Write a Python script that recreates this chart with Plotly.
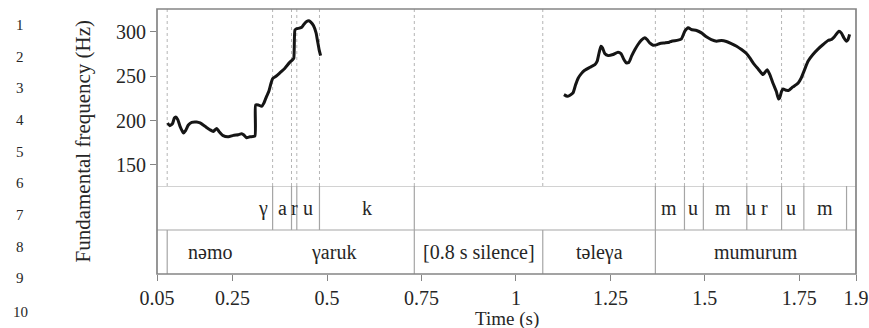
import plotly.graph_objects as go

# F0 contour, first voiced stretch (nəmo ɣaruk)
seg1_t = [0.078, 0.084, 0.091, 0.096, 0.100, 0.105, 0.111, 0.120, 0.126, 0.133,
          0.142, 0.155, 0.164, 0.177, 0.190, 0.199, 0.208, 0.214, 0.225, 0.239,
          0.252, 0.265, 0.274, 0.280, 0.287, 0.296, 0.309, 0.311, 0.318, 0.327,
          0.333, 0.340, 0.346, 0.352, 0.356, 0.365, 0.375, 0.389, 0.400, 0.409,
          0.412, 0.415, 0.419, 0.427, 0.433, 0.439, 0.446, 0.452, 0.457, 0.464,
          0.471, 0.475, 0.479, 0.483]
seg1_hz = [197.3, 194.2, 196.5, 202.9, 204.0, 201.0, 193.5, 186.0, 189.0, 195.0,
           198.0, 198.4, 197.3, 193.5, 189.7, 187.8, 191.2, 187.8, 183.0, 181.8,
           183.3, 184.1, 185.2, 183.7, 180.7, 181.8, 182.6, 217.6, 217.6, 216.1,
           219.8, 227.3, 233.0, 242.4, 247.3, 249.9, 253.7, 259.3, 265.0, 268.7,
           270.2, 301.8, 303.4, 304.1, 305.2, 308.6, 311.6, 312.4, 310.9, 307.1,
           298.8, 289.4, 280.0, 273.2]

# F0 contour, second voiced stretch (təleɣa mumurum)
seg2_t = [1.127, 1.136, 1.143, 1.151, 1.158, 1.165, 1.173, 1.182, 1.196, 1.209,
          1.215, 1.220, 1.225, 1.229, 1.235, 1.244, 1.257, 1.270, 1.278, 1.285,
          1.292, 1.299, 1.306, 1.315, 1.323, 1.332, 1.341, 1.347, 1.354, 1.363,
          1.372, 1.381, 1.394, 1.406, 1.412, 1.429, 1.438, 1.447, 1.456, 1.464,
          1.478, 1.491, 1.504, 1.517, 1.531, 1.544, 1.557, 1.570, 1.584, 1.597,
          1.610, 1.619, 1.629, 1.641, 1.654, 1.665, 1.672, 1.680, 1.689, 1.695,
          1.698, 1.703, 1.707, 1.716, 1.722, 1.733, 1.747, 1.755, 1.764, 1.773,
          1.786, 1.800, 1.813, 1.826, 1.835, 1.844, 1.855, 1.861, 1.868, 1.875,
          1.879, 1.883]
seg2_hz = [229.2, 227.3, 228.5, 231.1, 240.5, 248.0, 252.9, 256.7, 260.1, 263.1,
           266.9, 276.3, 283.8, 281.9, 275.5, 273.2, 274.4, 277.0, 275.5, 269.5,
           265.0, 265.7, 272.5, 280.0, 285.7, 290.6, 293.2, 291.3, 287.5, 284.9,
           285.3, 286.8, 287.5, 288.3, 289.4, 290.6, 292.1, 300.7, 304.5, 302.6,
           301.5, 298.8, 294.3, 291.3, 289.4, 290.2, 289.1, 286.8, 283.8, 280.0,
           275.5, 270.6, 264.2, 258.2, 251.8, 257.4, 251.8, 242.4, 233.0, 224.3,
           225.5, 233.0, 235.6, 234.1, 234.1, 237.9, 242.4, 248.0, 257.4, 266.9,
           274.4, 280.8, 285.7, 290.2, 291.3, 295.1, 300.7, 298.8, 293.2, 289.4,
           291.3, 297.0]

# TextGrid tiers
phone_bounds = [0.356, 0.406, 0.420, 0.480, 0.731, 1.369, 1.446, 1.496,
                1.611, 1.703, 1.762, 1.875]
phone_labels = ["γ", "a", "r", "u", "k", "m", "u", "m", "u", "r", "u", "m"]
phone_label_t = [0.330, 0.381, 0.414, 0.450, 0.606, 1.404, 1.468, 1.547,
                 1.623, 1.658, 1.729, 1.817]

word_bounds = [0.077, 0.731, 1.071, 1.369]
word_labels = ["nəmo", "γaruk", "[0.8 s silence]", "təleγa", "mumurum"]
word_label_t = [0.190, 0.516, 0.901, 1.220, 1.634]

# dotted guides in the pitch panel
guide_t = [0.077, 0.356, 0.406, 0.420, 0.480, 0.731, 1.071, 1.369, 1.446,
           1.496, 1.611, 1.703, 1.762]

x_ticks = [0.05, 0.25, 0.5, 0.75, 1, 1.25, 1.5, 1.75, 1.9]
x_ticktext = ["0.05", "0.25", "0.5", "0.75", "1", "1.25", "1.5", "1.75", "1.9"]
y_ticks = [150, 200, 250, 300]

line_numbers = [str(i) for i in range(1, 11)]
line_number_y = [25, 57, 88, 120, 152, 183, 215, 247, 278, 312]

FONT = "'Liberation Serif', 'Times New Roman', Times, serif"
TXT = "#262626"
FRAME = "#858585"
TIER = "#a5a5a5"
GUIDE = "#b5b5b5"

W, H = 869, 328
ML, MR, MT, MB = 157, 13, 9, 54
plot_w = W - ML - MR
plot_h = H - MT - MB
split = (274 - 186) / plot_h

fig = go.Figure()
for ts, hz in ((seg1_t, seg1_hz), (seg2_t, seg2_hz)):
    fig.add_trace(go.Scatter(x=ts, y=hz, mode="lines",
                             line=dict(color="#151515", width=3, shape="spline", smoothing=0.5),
                             hoverinfo="skip", showlegend=False))

shapes = []
for t in guide_t:
    shapes.append(dict(type="line", xref="x", yref="y domain", x0=t, x1=t, y0=0, y1=1,
                       line=dict(color=GUIDE, width=1, dash="dot"), layer="below"))
for t in phone_bounds:
    shapes.append(dict(type="line", xref="x", yref="y2", x0=t, x1=t, y0=1, y1=2,
                       line=dict(color=TIER, width=1.2)))
for t in word_bounds:
    shapes.append(dict(type="line", xref="x", yref="y2", x0=t, x1=t, y0=0, y1=1,
                       line=dict(color=TIER, width=1.2)))
# tier separators
for yv in (1, 2):
    shapes.append(dict(type="line", xref="paper", yref="y2", x0=0, x1=1, y0=yv, y1=yv,
                       line=dict(color=TIER, width=1.2)))
# outer frame
shapes.append(dict(type="rect", xref="paper", yref="paper", x0=0, x1=1, y0=0, y1=1,
                   line=dict(color=FRAME, width=1.7)))

annotations = []
for lab, t in zip(phone_labels, phone_label_t):
    annotations.append(dict(x=t, y=1.5, xref="x", yref="y2", text=lab, showarrow=False,
                            xanchor="center", yanchor="middle",
                            font=dict(family=FONT, size=20, color=TXT)))
for lab, t in zip(word_labels, word_label_t):
    annotations.append(dict(x=t, y=0.5, xref="x", yref="y2", text=lab, showarrow=False,
                            xanchor="center", yanchor="middle",
                            font=dict(family=FONT, size=20, color=TXT)))
# axis titles
annotations.append(dict(x=(82 - ML) / plot_w, y=0.5, xref="paper", yref="paper",
                        text="Fundamental frequency (Hz)", textangle=-90, showarrow=False,
                        xanchor="center", yanchor="middle",
                        font=dict(family=FONT, size=21, color=TXT)))
annotations.append(dict(x=0.5, y=0, xref="paper", yref="paper", yshift=-45,
                        text="Time (s)", showarrow=False,
                        xanchor="center", yanchor="middle",
                        font=dict(family=FONT, size=19, color=TXT)))
for lab, yp in zip(line_numbers, line_number_y):
    annotations.append(dict(x=(20 - ML) / plot_w, y=(H - MB - yp) / plot_h,
                            xref="paper", yref="paper", text=lab, showarrow=False,
                            xanchor="center", yanchor="middle",
                            font=dict(family=FONT, size=15, color=TXT)))

fig.update_layout(
    width=W, height=H,
    margin=dict(l=ML, r=MR, t=MT, b=MB, autoexpand=False),
    paper_bgcolor="white", plot_bgcolor="white",
    font=dict(family=FONT, size=20, color=TXT),
    xaxis=dict(range=[0.05, 1.9], anchor="y2", tickvals=x_ticks, ticktext=x_ticktext,
               ticks="outside", ticklen=6, tickcolor=FRAME, tickwidth=1.2,
               ticklabelstandoff=0, automargin=False,
               showline=False, showgrid=False, zeroline=False,
               tickfont=dict(family=FONT, size=20, color=TXT)),
    yaxis=dict(domain=[split, 1], range=[126.3, 325.7], tickvals=y_ticks,
               ticks="outside", ticklen=6, tickcolor=FRAME, tickwidth=1.2,
               automargin=False,
               showline=False, showgrid=False, zeroline=False,
               tickfont=dict(family=FONT, size=20, color=TXT)),
    yaxis2=dict(domain=[0, split], range=[0, 2], visible=False),
    shapes=shapes,
    annotations=annotations,
)

fig.write_html("out.html")
